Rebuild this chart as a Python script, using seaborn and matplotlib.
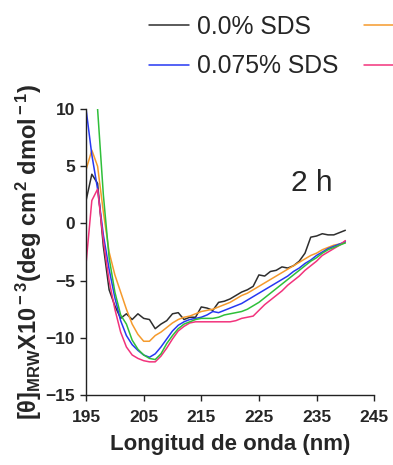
import numpy as np
import pandas as pd
import seaborn as sns
import matplotlib.pyplot as plt

# wavelength grid (nm)
wavelength = list(range(195, 241))

# ellipticity x10^-3
sds_0 = [2.0, 4.3, 3.5, -2.0, -5.8, -7.2, -8.3, -7.9, -8.4, -7.9, -8.3, -8.4, -9.2, -8.8, -8.5,
         -7.9, -7.8, -8.4, -8.2, -8.2, -7.3, -7.4, -7.6, -6.9, -6.8, -6.6, -6.3, -6.0, -5.8, -5.5,
         -4.5, -4.6, -4.2, -4.1, -3.8, -3.9, -3.7, -3.3, -2.6, -1.2, -1.1, -0.9, -1.0, -1.0, -0.8, -0.6]
sds_orange = [4.7, 6.4, 5.0, 1.0, -2.5, -4.5, -6.0, -7.5, -8.8, -9.7, -10.3, -10.3, -9.8, -9.5, -9.1,
              -8.7, -8.4, -8.2, -8.1, -7.9, -7.7, -7.6, -7.5, -7.3, -7.1, -6.9, -6.6, -6.3, -6.1, -5.8,
              -5.5, -5.2, -4.9, -4.6, -4.3, -4.0, -3.7, -3.4, -3.1, -2.8, -2.6, -2.3, -2.1, -1.9, -1.8, -1.7]
sds_0075 = [10.0, 6.0, 3.0, -1.0, -4.0, -6.5, -8.5, -9.8, -10.6, -11.1, -11.5, -11.7, -11.4, -10.8, -10.1,
            -9.4, -8.9, -8.6, -8.4, -8.3, -8.2, -8.0, -7.7, -7.8, -7.6, -7.4, -7.2, -7.0, -6.7, -6.4,
            -6.1, -5.8, -5.5, -5.2, -4.9, -4.6, -4.2, -3.9, -3.5, -3.2, -2.8, -2.5, -2.2, -2.0, -1.8, -1.6]
sds_pink = [-3.5, 2.0, 3.0, -1.5, -5.0, -7.5, -9.5, -10.8, -11.5, -11.8, -12.0, -12.1, -12.1, -11.6, -10.9,
            -10.1, -9.4, -9.0, -8.7, -8.6, -8.6, -8.6, -8.6, -8.6, -8.6, -8.6, -8.5, -8.3, -8.2, -8.1,
            -7.6, -7.1, -6.7, -6.3, -5.9, -5.4, -5.0, -4.6, -4.1, -3.7, -3.3, -2.8, -2.5, -2.2, -1.9, -1.5]
sds_green = [18.0, 14.0, 10.0, 2.5, -3.0, -6.0, -8.0, -8.8, -10.2, -11.0, -11.5, -11.8, -11.9, -11.4, -10.5,
             -9.8, -9.2, -8.8, -8.6, -8.4, -8.3, -8.3, -8.3, -8.2, -8.0, -7.9, -7.8, -7.7, -7.5, -7.2,
             -6.9, -6.5, -6.1, -5.7, -5.3, -4.9, -4.5, -4.1, -3.7, -3.3, -3.0, -2.6, -2.3, -2.1, -1.9, -1.7]

samples = ["0.0% SDS", "orange", "0.075% SDS", "pink", "green"]
colors = ["#2e2e2e", "#f59a2c", "#2638f2", "#f2337c", "#2fbf3a"]
series = [sds_0, sds_orange, sds_0075, sds_pink, sds_green]
# only the first column of the legend is visible in the picture
legend_labels = ["0.0% SDS", "0.075% SDS", "", ""]
legend_colors = [colors[0], colors[2], colors[1], colors[3]]

df = pd.DataFrame({"nm": wavelength * len(series),
                   "theta": sum(series, []),
                   "sample": np.repeat(samples, len(wavelength))})

sns.set_style("ticks")
plt.rcParams["font.family"] = ["Liberation Sans", "DejaVu Sans"]
plt.rcParams["mathtext.fontset"] = "custom"
plt.rcParams["mathtext.rm"] = "Liberation Sans:bold"
plt.rcParams["mathtext.bf"] = "Liberation Sans:bold"
plt.rcParams["mathtext.it"] = "Liberation Sans:bold"

fig = plt.figure(figsize=(3.93, 4.65), dpi=100)
ax = fig.add_axes([0.219, 0.1505, 0.733, 0.615])

sns.lineplot(data=df, x="nm", y="theta", hue="sample", palette=dict(zip(samples, colors)),
             hue_order=samples, linewidth=1.1, ax=ax, legend=False)

ax.set_xlim(195, 245)
ax.set_ylim(-15, 10)
ax.set_xticks(range(195, 246, 10))
ax.set_yticks(range(-15, 11, 5))
ax.tick_params(labelsize=12.5, width=1, length=4, color="#222222")
ax.tick_params(axis="x", pad=7)
ax.tick_params(axis="y", pad=4)
for t in ax.get_xticklabels() + ax.get_yticklabels():
    t.set_fontweight("bold")
sns.despine(ax=ax)
for s in ["left", "bottom"]:
    ax.spines[s].set_color("#222222")
    ax.spines[s].set_linewidth(1)

ax.set_xlabel("Longitud de onda (nm)", fontsize=16, fontweight="bold", labelpad=6)
ax.set_ylabel(r"[$\theta$]$_{\rm MRW}$X10$^{\rm -3}$(deg cm$^{\rm 2}$ dmol$^{\rm -1}$)",
              fontsize=17, fontweight="bold", labelpad=1)

ax.text(0.785, 0.741, "2 h", transform=ax.transAxes, fontsize=21.5, ha="center", va="center")

handles = [plt.Line2D([], [], color=c, lw=1.1) for c in legend_colors]
fig.legend(handles, legend_labels, ncol=2, loc="upper left", bbox_to_anchor=(0.378, 0.968),
           frameon=False, fontsize=17.8, handlelength=1.62, handletextpad=0.32,
           columnspacing=1.05, labelspacing=0.62, borderpad=0, borderaxespad=0)

fig.savefig("out.png", dpi=100)
